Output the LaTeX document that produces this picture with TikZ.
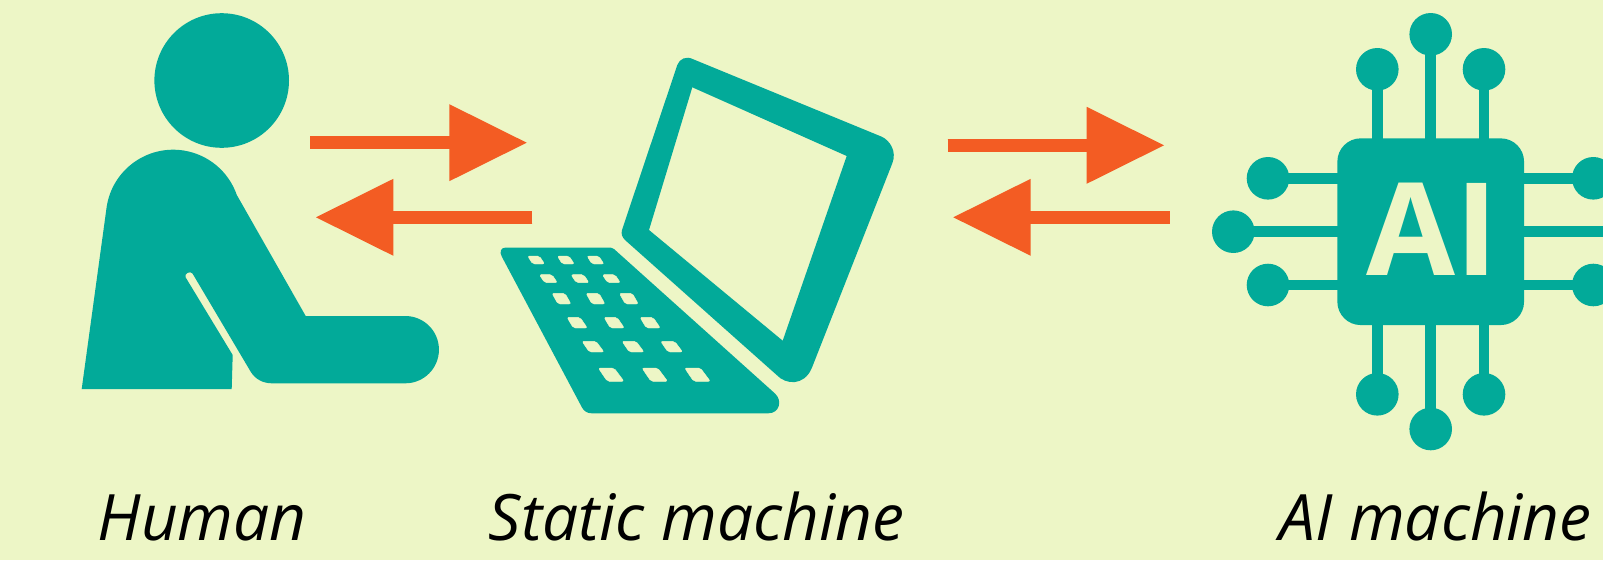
\documentclass[tikz,border=0pt]{standalone}
\usepackage{fontspec}
\setmainfont{Open Sans}
\usetikzlibrary{arrows.meta}
\definecolor{bgc}{RGB}{237,246,198}
\definecolor{teal1}{RGB}{2,170,153}
\definecolor{org}{RGB}{243,92,35}
\tikzset{
  blockarrow/.style={draw=org,line width=13.3pt,-{Triangle[length=77.4pt,width=77pt,line width=0pt,fill=org]},
    postaction={draw=org,-,line width=13.3pt,shorten >=72pt}},
  teal shape/.style={fill=teal1,draw=none},
  keycap/.style={fill=bgc,draw=bgc,line width=0.4pt,rounded corners=2pt,line join=round},
  pin/.style={draw=teal1,line width=10.7pt,shorten >=-3pt},
  pinhead/.style={circle,fill=teal1,draw=none,minimum size=42.6pt,inner sep=0pt},
  caption/.style={inner sep=0pt,anchor=base,font=\fontsize{64}{64}\selectfont\itshape,text=black},
}
\begin{document}
\begin{tikzpicture}[x=1pt,y=-1pt]
\useasboundingbox (0,0) rectangle (1603,560);
\clip (0,0) rectangle (1603,560);
\fill[bgc] (0,0) rectangle (1603,560);
% human
\fill[teal shape] (221.7,80.5) circle (67.3);
\fill[teal shape] (81.7,389) -- (106.7,206.7)
  arc[start angle=-171.2,end angle=-19.1,radius=67.3]
  -- (305.7,316) -- (405.3,316)
  arc[start angle=-90,end angle=90,radius=33.65] -- (271.7,383.3)
  .. controls (263,383.3) and (255,379) .. (250.7,371.7)
  -- (192.5,273.5) .. controls (190,270.5) and (184,273.5) .. (185.7,277.5)
  -- (232.7,355) -- (231.7,389) -- cycle;
% laptop
\fill[teal shape,even odd rule] (693.3,59.3)
  -- (881.7,136.7) .. controls (890,140.5) and (897,151.5) .. (892.3,163.3)
  -- (811.7,368.3) .. controls (804,386) and (786,385) .. (776.7,375)
  -- (625,240) .. controls (622,237) and (621,234) .. (622,230)
  -- (677.3,65) .. controls (679.5,59) and (686,55.5) .. (693.3,59.3) -- cycle
  (692.3,87.3) -- (846.7,156) -- (782.7,340.7) -- (649,230) -- cycle;
\fill[teal shape] (505,247.7) -- (611,247.7) .. controls (612,247.7) and (613,248) .. (614,249)
  -- (775,393.5) .. controls (783,401) and (779,413.3) .. (768.3,413.3)
  -- (591.7,413.3) .. controls (587,413.3) and (584,411) .. (582,407.5)
  -- (502,257) .. controls (499,252) and (501,247.7) .. (505,247.7) -- cycle;
% keys
\foreach \yt/\yb/\wa/\wb/\wc/\xa/\xb/\xc in {
  48/72/35/51/15/113/202/291,
  104/128/38/54/16/148/243/337,
  160/192/39/57/18/186/288/388,
  232/264/39/61/19/231/342/450,
  304/336/42/66/22/276/396/512,
  384/424/47/77/27/325/456/584}{
  \foreach \xx in {\xa,\xb,\xc}{
    \fill[keycap] ({490+\xx/3},{240+\yt/3}) -- ({490+(\xx+\wa)/3},{240+\yt/3})
      -- ({490+(\xx+\wb)/3},{240+\yb/3}) -- ({490+(\xx+\wc)/3},{240+\yb/3}) -- cycle;
  }
}
% arrows
\coordinate (a1s) at (310.3,142.7); \coordinate (a1e) at (526.7,142.7);
\coordinate (a2s) at (532.3,217.3); \coordinate (a2e) at (316,217.3);
\coordinate (a3s) at (947.7,145.3); \coordinate (a3e) at (1164,145.3);
\coordinate (a4s) at (1169.7,217.3); \coordinate (a4e) at (953.3,217.3);
\draw[blockarrow] (a1s) -- (a1e);
\draw[blockarrow] (a2s) -- (a2e);
\draw[blockarrow] (a3s) -- (a3e);
\draw[blockarrow] (a4s) -- (a4e);
% chip
\node[pinhead] (t1) at (1377.3,69.3) {};
\node[pinhead] (t2) at (1430.7,34.3) {};
\node[pinhead] (t3) at (1484,69.3) {};
\node[pinhead] (b1) at (1377.3,394.3) {};
\node[pinhead] (b2) at (1430.7,429) {};
\node[pinhead] (b3) at (1484,394.3) {};
\node[pinhead] (l1) at (1268,178.3) {};
\node[pinhead] (l2) at (1233.3,231.7) {};
\node[pinhead] (l3) at (1268,285) {};
\node[pinhead] (r1) at (1593.3,178.3) {};
\node[pinhead] (r2) at (1628,231.7) {};
\node[pinhead] (r3) at (1593.3,285) {};
\draw[pin] (t1.center) -- (t1.center |- 0,138.3);
\draw[pin] (t2.center) -- (t2.center |- 0,138.3);
\draw[pin] (t3.center) -- (t3.center |- 0,138.3);
\draw[pin] (b1.center) -- (b1.center |- 0,325);
\draw[pin] (b2.center) -- (b2.center |- 0,325);
\draw[pin] (b3.center) -- (b3.center |- 0,325);
\draw[pin] (l1.center) -- (l1.center -| 1337.3,0);
\draw[pin] (l2.center) -- (l2.center -| 1337.3,0);
\draw[pin] (l3.center) -- (l3.center -| 1337.3,0);
\draw[pin] (r1.center) -- (r1.center -| 1524,0);
\draw[pin] (r2.center) -- (r2.center -| 1524,0);
\draw[pin] (r3.center) -- (r3.center -| 1524,0);
\node[fill=teal1,draw=none,rounded corners=23.3pt,minimum width=186.7pt,minimum height=186.7pt,inner sep=0pt] (chip) at (1430.7,231.7) {};
\node[inner sep=0pt,anchor=base,text=bgc,font=\fontsize{129}{129}\selectfont\bfseries] (ai) at (1432.6,275) {AI};
% captions
\node[caption] (h) at (202.2,540.5) {Human};
\node[caption] (s) at (696.5,540.5) {Static machine};
\node[caption] (m) at (1435.5,540.5) {AI machine};
\end{tikzpicture}
\end{document}
